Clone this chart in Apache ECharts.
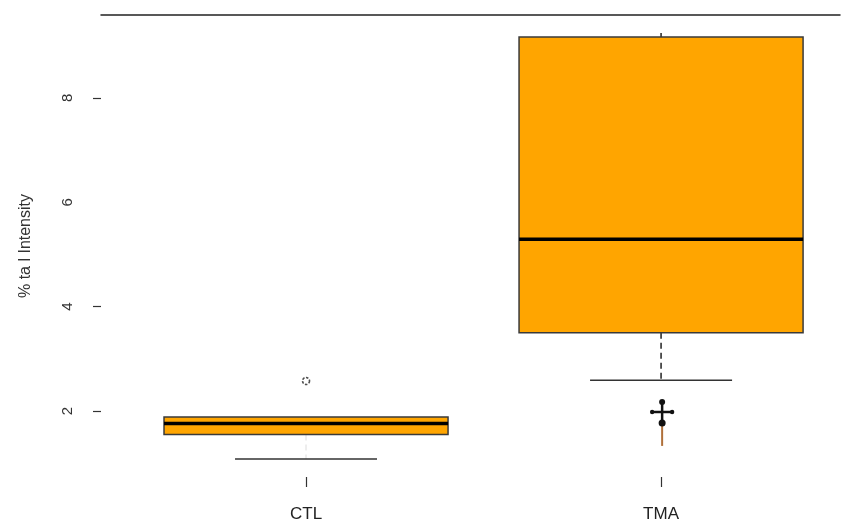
<!DOCTYPE html>
<html><head><meta charset="utf-8">
<script src="https://cdn.jsdelivr.net/npm/echarts@6/dist/echarts.min.js"></script>
<style>html,body{margin:0;padding:0;background:#fff}#c{width:852px;height:520px}</style>
</head><body><div id="c"></div>
<script>
const categories = ['CTL', 'TMA'];
// [low whisker, q1, median, q3, high whisker]
const boxStats = [
  [1.08, 1.55, 1.76, 1.885, 1.885],
  [2.59, 3.50, 5.29, 9.17, 9.245]
];
const outliers = [[1, 2.575]];
// TMA marks below the lower whisker: [x, top dot, crossbar, lower dot, bottom]
const tmaMarks = [[2.003, 2.17, 1.98, 1.77, 1.33]];
const yTickLabels = [2, 4, 6, 8];
const yTicks = [2, 4, 8];

const chart = echarts.init(document.getElementById('c'));
const font = 'Liberation Sans, Arial, sans-serif';

chart.setOption({
  animation: false,
  backgroundColor: '#fff',
  grid: { left: 101, right: 12, top: 15, bottom: 43, outerBoundsMode: 'none', containLabel: false },
  xAxis: [{
    type: 'value', min: 0.4225, max: 2.504, position: 'bottom',
    splitLine: { show: false }, axisLine: { show: false },
    axisTick: { show: true, customValues: [1, 2], length: 10, lineStyle: { color: '#333', width: 1.2 } },
    axisLabel: { customValues: [1, 2], formatter: v => categories[Math.round(v) - 1], margin: 29,
      fontFamily: font, fontSize: 17, color: '#222' }
  }, {
    type: 'value', min: 0.4225, max: 2.504, position: 'top',
    splitLine: { show: false }, axisTick: { show: false }, axisLabel: { show: false },
    axisLine: { show: true, lineStyle: { color: '#222', width: 1.5 } }
  }],
  yAxis: {
    type: 'value', min: 0.734, max: 9.59,
    splitLine: { show: false }, axisLine: { show: false },
    axisTick: { show: true, customValues: yTicks, length: 8, lineStyle: { color: '#333', width: 1.2 } },
    axisLabel: { customValues: yTickLabels, rotate: 90, margin: 26, fontFamily: font, fontSize: 15, color: '#333' },
    name: '% ta l Intensity', nameLocation: 'middle', nameGap: 67, nameRotate: 90,
    nameTextStyle: { fontFamily: font, fontSize: 16, color: '#333' }
  },
  series: [{
    type: 'custom',
    data: boxStats.map((s, i) => [i + 1].concat(s)),
    renderItem: function (params, api) {
      const x = api.value(0);
      const hw = 0.4, cw = 0.2;
      const p = v => api.coord([x, v]);
      const L = api.coord([x - hw, 0])[0], R = api.coord([x + hw, 0])[0];
      const cL = api.coord([x - cw, 0])[0], cR = api.coord([x + cw, 0])[0];
      const cx = p(0)[0];
      const yLow = p(api.value(1))[1], yQ1 = p(api.value(2))[1], yMed = p(api.value(3))[1],
            yQ3 = p(api.value(4))[1], yHigh = p(api.value(5))[1];
      const faint = params.dataIndex === 0;
      const ch = [];
      ch.push({ type: 'line', shape: { x1: cx, y1: yQ1, x2: cx, y2: yLow },
        style: { stroke: faint ? '#e8e8e8' : '#222', lineWidth: 1.5, lineDash: [6, 4] } });
      if (yHigh < yQ3 - 0.5) {
        ch.push({ type: 'line', shape: { x1: cx, y1: yQ3, x2: cx, y2: yHigh },
          style: { stroke: '#222', lineWidth: 1.5 } });
      }
      ch.push({ type: 'line', shape: { x1: cL, y1: yLow, x2: cR, y2: yLow },
        style: { stroke: '#333', lineWidth: 1.5 } });
      ch.push({ type: 'rect', shape: { x: L, y: yQ3, width: R - L, height: yQ1 - yQ3 },
        style: { fill: '#FFA500', stroke: '#3a3a3a', lineWidth: 1.5 } });
      ch.push({ type: 'line', shape: { x1: L, y1: yMed, x2: R, y2: yMed },
        style: { stroke: '#000', lineWidth: 3.5 } });
      return { type: 'group', children: ch };
    },
    z: 2
  }, {
    type: 'scatter',
    data: outliers,
    symbol: 'circle', symbolSize: 7,
    itemStyle: { color: '#fff', borderColor: '#222', borderWidth: 1.6, borderType: [2.5, 1.5] },
    z: 3
  }, {
    type: 'custom',
    data: tmaMarks,
    renderItem: function (params, api) {
      const x = api.value(0);
      const p = v => api.coord([x, v]);
      const cx = p(0)[0];
      const yTop = p(api.value(1))[1], yCross = p(api.value(2))[1], yDot = p(api.value(3))[1], yBot = p(api.value(4))[1];
      return { type: 'group', children: [
        { type: 'line', shape: { x1: cx, y1: yDot, x2: cx, y2: yBot }, style: { stroke: '#b0703a', lineWidth: 2 } },
        { type: 'line', shape: { x1: cx, y1: yTop, x2: cx, y2: yDot }, style: { stroke: '#111', lineWidth: 2.5 } },
        { type: 'line', shape: { x1: cx - 11, y1: yCross, x2: cx + 11, y2: yCross }, style: { stroke: '#111', lineWidth: 2.5 } },
        { type: 'circle', shape: { cx: cx, cy: yTop, r: 3 }, style: { fill: '#111' } },
        { type: 'circle', shape: { cx: cx, cy: yDot, r: 3.5 }, style: { fill: '#111' } },
        { type: 'circle', shape: { cx: cx - 10, cy: yCross, r: 2.2 }, style: { fill: '#111' } },
        { type: 'circle', shape: { cx: cx + 10, cy: yCross, r: 2.2 }, style: { fill: '#111' } }
      ] };
    },
    z: 3
  }]
});
</script>
</body></html>
